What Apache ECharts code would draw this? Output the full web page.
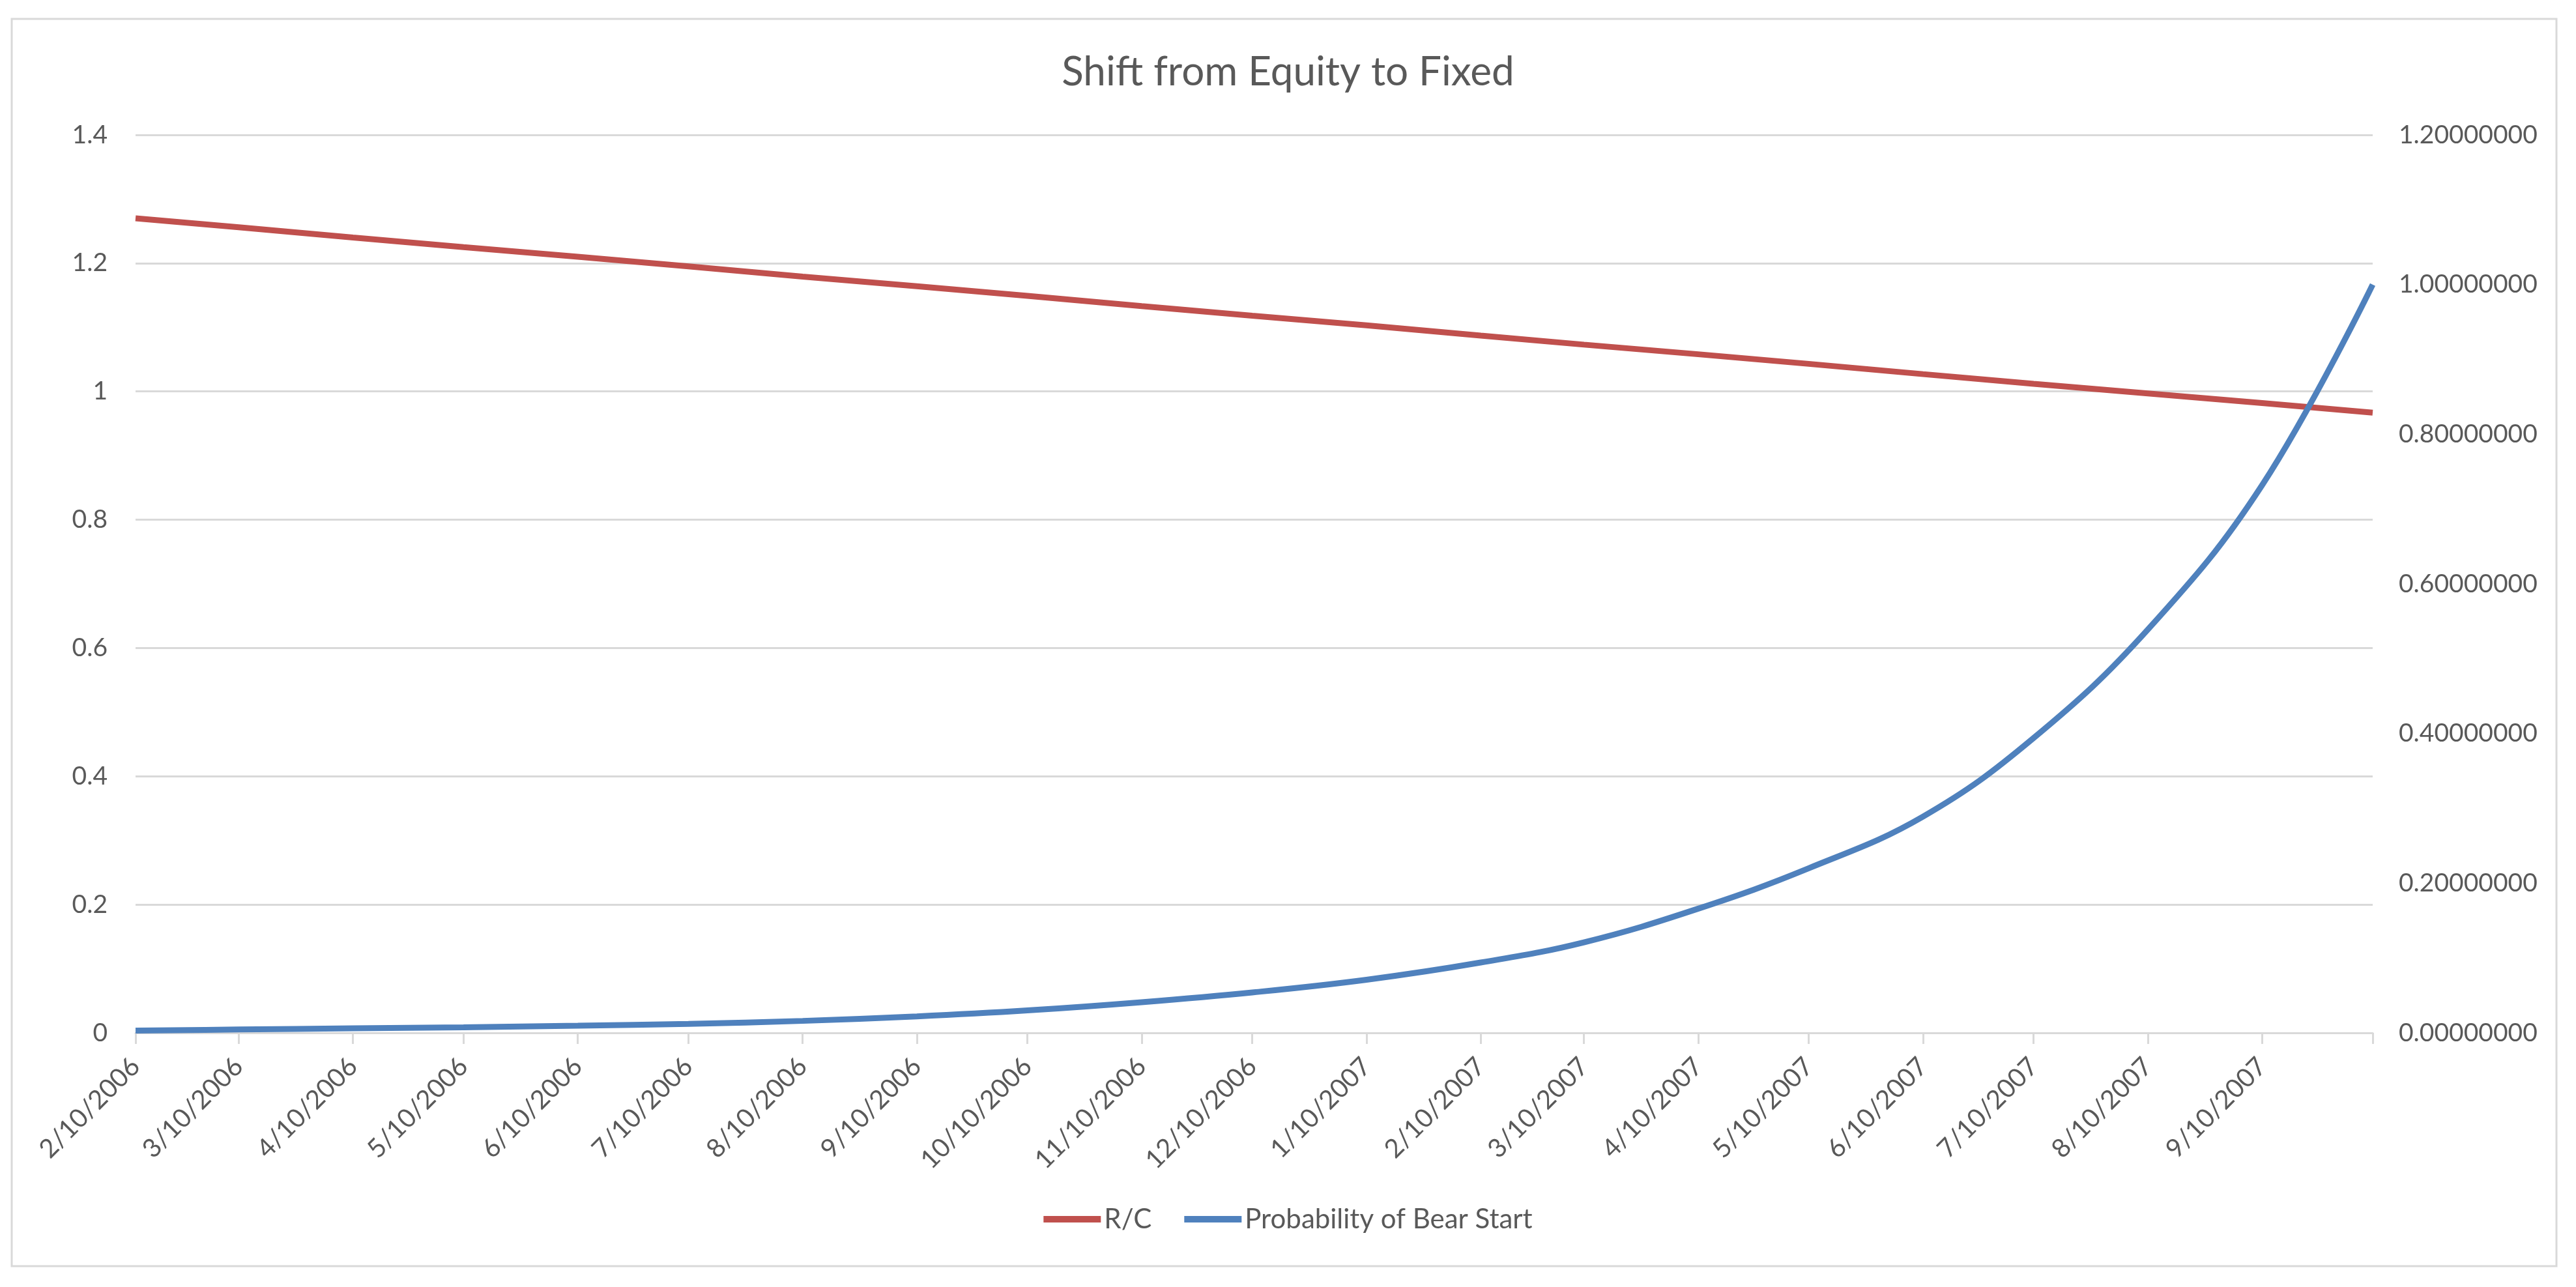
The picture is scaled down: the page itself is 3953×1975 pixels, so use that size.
<!DOCTYPE html>
<html>
<head>
<meta charset="utf-8">
<script src="https://cdn.jsdelivr.net/npm/echarts@6/dist/echarts.min.js"></script>
<style>
html,body{margin:0;padding:0;background:#fff;}
#chart{width:3953px;height:1975px;}
</style>
</head>
<body>
<div id="chart"></div>
<script>
// Dates of the monthly readings (10th of each month), M/D/YYYY
const dates = ['2/10/2006','3/10/2006','4/10/2006','5/10/2006','6/10/2006','7/10/2006','8/10/2006','9/10/2006','10/10/2006','11/10/2006','12/10/2006','1/10/2007','2/10/2007','3/10/2007','4/10/2007','5/10/2007','6/10/2007','7/10/2007','8/10/2007','9/10/2007','10/10/2007'];
// R/C (left axis)
const rcValues = [1.270,1.256,1.240,1.225,1.210,1.195,1.179,1.164,1.149,1.133,1.118,1.103,1.087,1.073,1.058,1.043,1.027,1.012,0.997,0.982,0.967];
// Probability of Bear Start (right axis)
const bearValues = [0.003,0.0045,0.006,0.0075,0.0095,0.012,0.016,0.022,0.030,0.041,0.054,0.071,0.094,0.121,0.166,0.220,0.289,0.394,0.539,0.732,1.000];
// Axis x tick labels (last tick at 10/10/2007 carries no label)
const xLabelDates = dates.slice(0, dates.length - 1);
const xTickDates = dates.slice();

function parseMDY(s){ const p = s.split('/').map(Number); return new Date(p[2], p[0]-1, p[1]).getTime(); }
function fmtMDY(v){ const d = new Date(v); return (d.getMonth()+1)+'/'+d.getDate()+'/'+d.getFullYear(); }

const rcData = dates.map((d,i)=>[parseMDY(d), rcValues[i]]);
const bearData = dates.map((d,i)=>[parseMDY(d), bearValues[i]]);

const FONT = 'Lato';
const TXT = '#595959';
const GRID = '#D9D9D9';

const chart = echarts.init(document.getElementById('chart'), null, {renderer:'canvas'});
chart.setOption({
  animation:false,
  backgroundColor:'#ffffff',
  graphic:[{
    type:'rect', shape:{x:18,y:29,width:3905,height:1914},
    style:{fill:'none', stroke:GRID, lineWidth:3}, silent:true, z:-1
  }],
  title:{
    text:'Shift from Equity to Fixed', left:'center', top:75,
    textStyle:{fontFamily:FONT, fontSize:62, fontWeight:'normal', color:TXT}
  },
  legend:{
    bottom:78, left:'center', icon:'rect', itemWidth:88, itemHeight:10, itemGap:50,
    textStyle:{fontFamily:FONT, fontSize:42, color:TXT},
    data:['R/C','Probability of Bear Start']
  },
  grid:{left:208, right:312, top:207, bottom:390, containLabel:false},
  xAxis:{
    type:'value', scale:true,
    min:parseMDY(dates[0]), max:parseMDY(dates[dates.length-1]),
    axisLine:{show:true, onZero:false, lineStyle:{color:GRID, width:3}},
    axisTick:{show:true, length:17, lineStyle:{color:GRID, width:3}, customValues:xTickDates.map(parseMDY)},
    axisLabel:{
      rotate:45, margin:45, fontFamily:FONT, fontSize:40, color:TXT,
      customValues:xLabelDates.map(parseMDY),
      formatter:function(v){ return fmtMDY(v); }
    },
    splitLine:{show:false}
  },
  yAxis:[{
    type:'value', min:0, max:1.4, interval:0.2, position:'left',
    axisLine:{show:false}, axisTick:{show:false},
    axisLabel:{margin:43, fontFamily:FONT, fontSize:39, color:TXT,
      formatter:function(v){ return String(Math.round(v*10)/10); }},
    splitLine:{show:true, lineStyle:{color:GRID, width:3}}
  },{
    type:'value', min:0, max:1.2, interval:0.2, position:'right',
    axisLine:{show:false}, axisTick:{show:false},
    axisLabel:{margin:40, fontFamily:FONT, fontSize:39, color:TXT,
      formatter:function(v){ return v.toFixed(8); }},
    splitLine:{show:false}
  }],
  series:[{
    name:'R/C', type:'line', yAxisIndex:0, data:rcData, showSymbol:false, symbol:'none',
    lineStyle:{color:'#C0504D', width:9}, itemStyle:{color:'#C0504D'}
  },{
    name:'Probability of Bear Start', type:'line', yAxisIndex:1, data:bearData, showSymbol:false, symbol:'none',
    smooth:0.4,
    lineStyle:{color:'#4F81BD', width:9}, itemStyle:{color:'#4F81BD'}
  }]
});
</script>
</body>
</html>
